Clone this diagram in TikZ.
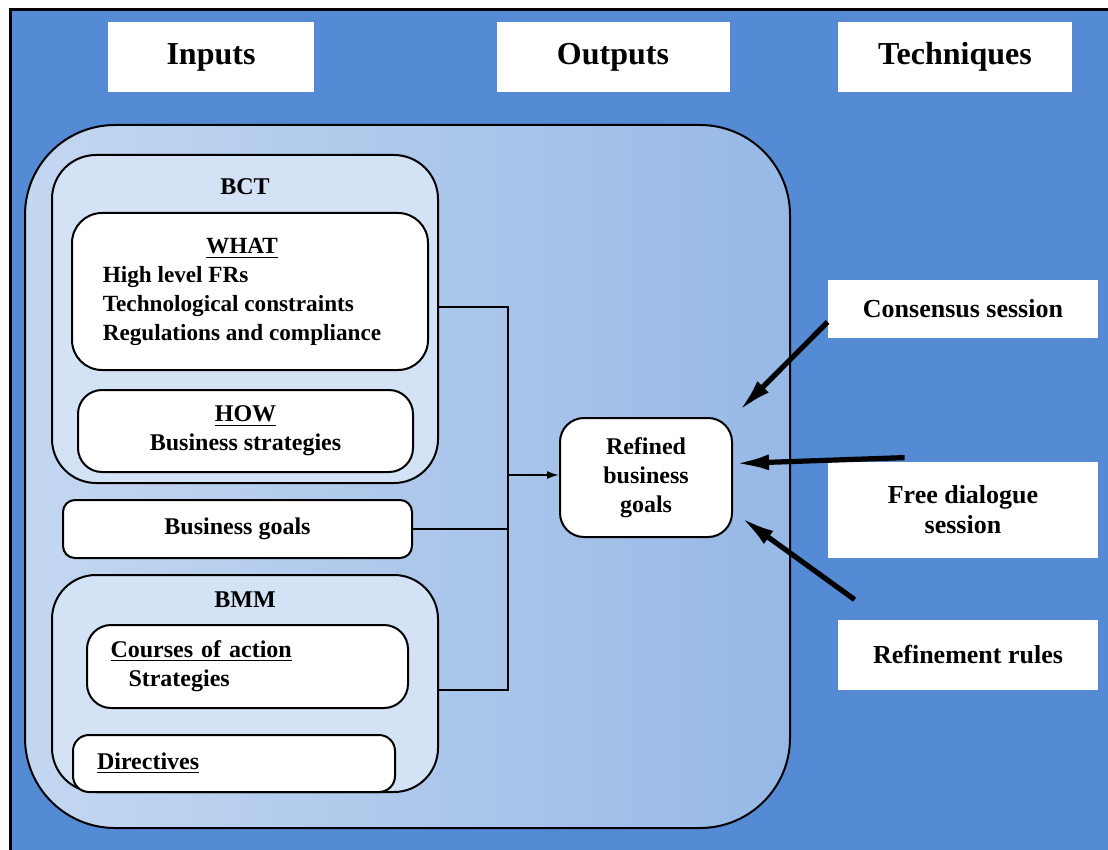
\documentclass[tikz,border=0pt]{standalone}
\usepackage{fontspec}
\setmainfont{Liberation Serif}
\usetikzlibrary{arrows.meta,calc}
\definecolor{sky}{HTML}{558BD5}
\definecolor{paneL}{HTML}{C4D7F1}
\definecolor{paneR}{HTML}{97B9E6}
\definecolor{grpfill}{HTML}{D3E2F5}

\begin{document}
\begin{tikzpicture}[x=0.5pt, y=-0.5pt, font=\bfseries\fontsize{12}{14.5}\selectfont,
          hdr/.style={fill=white, minimum height=35pt,
                      font=\bfseries\fontsize{16}{18}\selectfont},
          grp/.style={draw, line width=1pt, fill=grpfill, rounded corners=22pt},
          item/.style={draw, line width=1pt, fill=white, rounded corners=8pt},
          tech/.style={fill=white, align=center, font=\bfseries\fontsize{13}{15}\selectfont},
          conn/.style={line width=1pt},
          pull/.style={line width=2.6pt, -{Latex[length=17pt,width=8pt]}}]
        \useasboundingbox (0,0) rectangle (1108,850);
        % blue sheet with frame on top and left
        \fill[white] (0,0) rectangle (1108,850);
        \fill[sky] (10,10) rectangle (1108,850);
        \draw[line width=1.5pt] (10,850) -- (10,10) -- (1108,10);
        % column headers
        \node[hdr, minimum width=103pt] (inputs) at (211,57) {Inputs};
        \node[hdr, minimum width=116.5pt] (outputs) at (613,57) {Outputs};
        \node[hdr, minimum width=117pt] (techniques) at (955,57) {Techniques};
        % big panel
        \node[draw, line width=1pt, rounded corners=45pt, left color=paneL, right color=paneR,
              minimum width=382.5pt, minimum height=351.5pt] (panel) at (407.5,476.5) {};
        % BCT group
        \node[grp, minimum width=193pt, minimum height=164pt] (bct) at (245,319) {};
        \node (bctlbl) at (245,187) {BCT};
        \node[item, rounded corners=15pt, minimum width=178pt, minimum height=78.5pt,
              font=\bfseries\fontsize{11.6}{14.5}\selectfont] (what)
             at (250,291.5) {\begin{tabular}{@{}l@{}}\multicolumn{1}{c}{\underline{WHAT}}\\
               High level FRs\\Technological constraints\\Regulations and compliance\end{tabular}\hspace*{8pt}};
        \node[item, rounded corners=12pt, minimum width=167.5pt, minimum height=41pt,
              align=center] (how) at (245.5,431) {\underline{HOW}\\Business strategies};
        \node[item, rounded corners=6pt, minimum width=174.5pt, minimum height=29pt] (bgoals)
             at (237.5,529) {Business goals};
        % BMM group
        \node[grp, minimum width=193pt, minimum height=108.5pt] (bmm) at (245,683.5) {};
        \node (bmmlbl) at (245,600) {BMM};
        \node[item, rounded corners=12pt, minimum width=160.5pt, minimum height=41.5pt,
              text width=137pt, inner xsep=11.5pt, align=left] (coa)
             at (247.5,666.5) {\underline{Courses of action}\\\hspace*{9pt}Strategies};
        \node[item, rounded corners=8pt, minimum width=161pt, minimum height=28.5pt,
              text width=137pt, inner xsep=12pt, align=left] (dir)
             at (234,763.5) {\underline{Directives}};
        % output
        \node[item, rounded corners=12pt, minimum width=86pt, minimum height=59.5pt,
              align=center] (refined) at (646,477.5) {Refined\\business\\goals};
        % techniques
        \node[tech, minimum width=135pt, minimum height=29pt] (cons) at (963,309) {Consensus session};
        \node[tech, minimum width=135pt, minimum height=48pt] (free) at (963,510) {Free dialogue\\session};
        \node[tech, minimum width=130pt, minimum height=35pt] (rules) at (968,655) {Refinement rules};
        % inputs join and feed the output
        \coordinate (j) at (508,475);
        \draw[conn] ([yshift=6pt]bct.east) -| (j);
        \draw[conn] (bgoals.east) -- (bgoals.east -| j);
        \draw[conn] ([yshift=-3pt]bmm.east) -| (j);
        \draw[conn, -{Latex[length=6pt,width=4pt]}] (j) -- (j -| refined.west);
        % techniques act on the output
        \draw[pull] ([yshift=-6.5pt]cons.west) -- ([shift={(3pt,3pt)}]refined.north east);
        \draw[pull] ($(free.north west)+(77,-4)$) -- ([shift={(1pt,7pt)}]refined.east);
        \draw[pull] ($(rules.north west)+(17,-20)$) -- ([shift={(4pt,-20pt)}]refined.east);
      \end{tikzpicture}
\end{document}
